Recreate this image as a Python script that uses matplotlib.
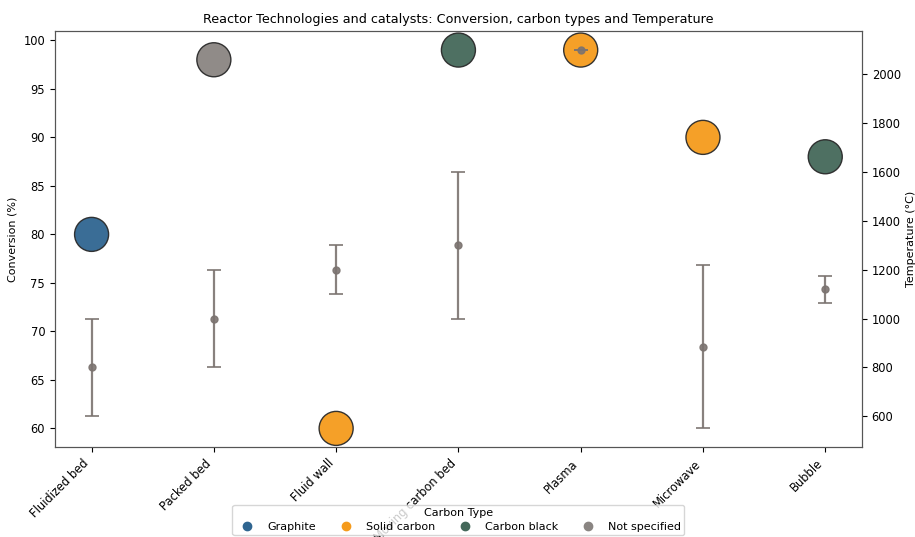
import matplotlib
matplotlib.use("Agg")
import matplotlib.pyplot as plt
from matplotlib.lines import Line2D

# ---------------------------------
# Data
# ---------------------------------
reactors = ["Fluidized bed", "Packed bed", "Fluid wall", "Moving carbon bed",
            "Plasma", "Microwave", "Bubble"]
conversion = [80, 98, 60, 99, 99, 90, 88]
carbon_type = ["Graphite", "Not specified", "Solid carbon", "Carbon black",
               "Solid carbon", "Solid carbon", "Carbon black"]
temp_mean = [800, 1000, 1200, 1300, 2100, 885, 1120]
temp_min = [600, 800, 1100, 1000, 2100, 550, 1065]
temp_max = [1000, 1200, 1300, 1600, 2100, 1220, 1175]

carbon_types = ["Graphite", "Solid carbon", "Carbon black", "Not specified"]
carbon_colors = ["#2f6590", "#f59b1c", "#44685a", "#8a8582"]
color_map = dict(zip(carbon_types, carbon_colors))

# ---------------------------------
# Plot
# ---------------------------------
fig, ax = plt.subplots(figsize=(9.15, 5.37), dpi=100)
fig.subplots_adjust(left=0.06, right=0.942, top=0.942, bottom=0.167)

x = list(range(len(reactors)))
ax.scatter(x, conversion, s=600, c=[color_map[c] for c in carbon_type],
           edgecolors="#2a2a2a", linewidths=1.0, alpha=0.95, zorder=3)
ax.set_ylabel("Conversion (%)", fontsize=8)
ax.set_xticks(x)
ax.set_xticklabels(reactors, rotation=45, ha="right", fontsize=8.3)
ax.tick_params(axis="y", labelsize=8.3)

ax2 = ax.twinx()
yerr = [[m - lo for m, lo in zip(temp_mean, temp_min)],
        [hi - m for m, hi in zip(temp_mean, temp_max)]]
ax2.errorbar(x, temp_mean, yerr=yerr, fmt="o", color="#7b7370", ecolor="#7b7370",
             markersize=5, capsize=5, elinewidth=1.6, capthick=1.3, alpha=0.9,
             zorder=4)
ax2.set_ylabel("Temperature (°C)", fontsize=8)
ax2.tick_params(axis="y", labelsize=8.3)

ax.set_title("Reactor Technologies and catalysts: Conversion, carbon types and Temperature",
             fontsize=9.2)

for a in (ax, ax2):
    for s in a.spines.values():
        s.set_color("#555555")

handles = [Line2D([0], [0], marker="o", linestyle="", markersize=6,
                  markerfacecolor=c, markeredgecolor=c, label=t)
           for t, c in zip(carbon_types, carbon_colors)]
ax.legend(handles=handles, title="Carbon Type", loc="upper center",
          bbox_to_anchor=(0.5, -0.125), ncol=4, fontsize=8, title_fontsize=8,
          columnspacing=1.7, borderpad=0.3, labelspacing=0.3)

plt.savefig("out.png", dpi=100)
